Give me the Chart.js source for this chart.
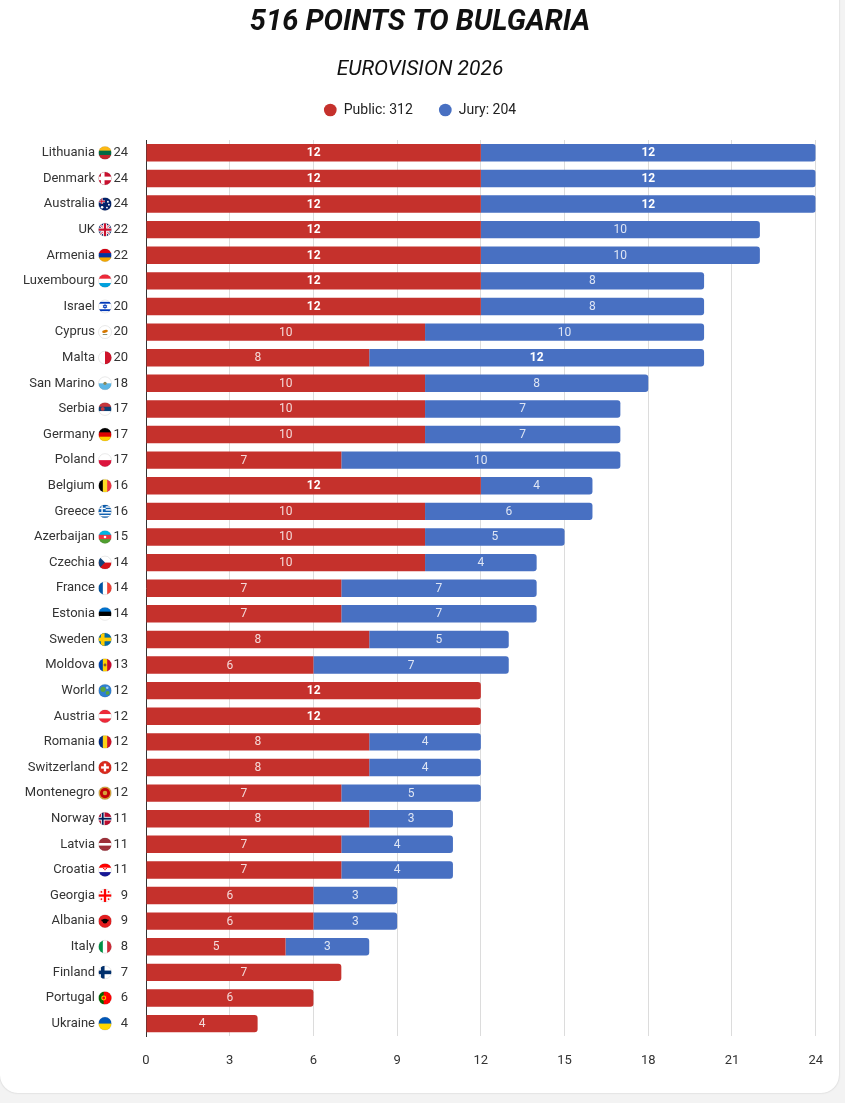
<!DOCTYPE html>
<html>
<head>
<meta charset="utf-8">
<title>516 points to Bulgaria</title>
<script src="https://cdn.jsdelivr.net/npm/chart.js@4.4.1/dist/chart.umd.min.js"></script>
<style>
  html, body { margin: 0; padding: 0; background: #f3f3f3; }
  .card {
    position: absolute; left: 0; top: -20px;
    width: 839px; height: 1113px;
    background: #fff; border-radius: 18px;
    box-shadow: 0 0 2px rgba(0, 0, 0, 0.2);
    overflow: hidden;
  }
  #chart { position: absolute; left: 0; top: 20px; }
</style>
</head>
<body>
<div class="card"><canvas id="chart" width="840" height="1093"></canvas></div>
<script>
// points received, top to bottom
const countries = [
  "Lithuania", "Denmark", "Australia", "UK", "Armenia", "Luxembourg", "Israel",
  "Cyprus", "Malta", "San Marino", "Serbia", "Germany", "Poland", "Belgium",
  "Greece", "Azerbaijan", "Czechia", "France", "Estonia", "Sweden", "Moldova",
  "World", "Austria", "Romania", "Switzerland", "Montenegro", "Norway", "Latvia",
  "Croatia", "Georgia", "Albania", "Italy", "Finland", "Portugal", "Ukraine"
];
const publicPoints = [
  12, 12, 12, 12, 12, 12, 12, 10, 8, 10, 10, 10, 7, 12, 10, 10, 10, 7,
  7, 8, 6, 12, 12, 8, 8, 7, 8, 7, 7, 6, 6, 5, 7, 6, 4
];
const juryPoints = [
  12, 12, 12, 10, 10, 8, 8, 10, 12, 8, 7, 7, 10, 4, 6, 5, 4, 7,
  7, 5, 7, 0, 0, 4, 4, 5, 3, 4, 4, 3, 3, 3, 0, 0, 0
];
const xTicks = [0, 3, 6, 9, 12, 15, 18, 21, 24];

const totals = countries.map((c, i) => publicPoints[i] + juryPoints[i]);
const sum = arr => arr.reduce((a, b) => a + b, 0);

const RED = "#c5312c";
const BLUE = "#4870c2";

Chart.defaults.font.family = "Roboto, 'Noto Sans', sans-serif";
Chart.defaults.color = "#333";

// little round flags next to the country names
const FLAGS = {
  Lithuania: { h: ["#fdb913", "#006a44", "#c1272d"] },
  Denmark: { nordic: ["#c8102e", "#ffffff"] },
  Australia: { h: ["#012169"], extra: f => {
    f.rect("#fff", f.x0, f.cy - f.r * 0.55, f.r, f.r * 0.3);
    f.rect("#fff", f.cx - f.r * 0.65, f.y0, f.r * 0.3, f.r);
    f.rect("#c8102e", f.x0, f.cy - f.r * 0.5, f.r, f.r * 0.16);
    f.rect("#c8102e", f.cx - f.r * 0.58, f.y0, f.r * 0.16, f.r);
    f.dot("#fff", f.cx + f.r * 0.45, f.cy - f.r * 0.35, f.r * 0.14);
    f.dot("#fff", f.cx + f.r * 0.6, f.cy + f.r * 0.1, f.r * 0.14);
    f.dot("#fff", f.cx + f.r * 0.3, f.cy + f.r * 0.55, f.r * 0.14);
    f.dot("#fff", f.cx - f.r * 0.45, f.cy + f.r * 0.5, f.r * 0.2);
  } },
  UK: { h: ["#012169"], extra: f => {
    const { ctx, x0, y0, d } = f;
    ctx.lineWidth = f.r * 0.4; ctx.strokeStyle = "#fff";
    ctx.beginPath(); ctx.moveTo(x0, y0); ctx.lineTo(x0 + d, y0 + d);
    ctx.moveTo(x0 + d, y0); ctx.lineTo(x0, y0 + d); ctx.stroke();
    ctx.lineWidth = f.r * 0.14; ctx.strokeStyle = "#c8102e";
    ctx.stroke();
    f.rect("#fff", f.cx - f.r * 0.3, y0, f.r * 0.6, d);
    f.rect("#fff", x0, f.cy - f.r * 0.3, d, f.r * 0.6);
    f.rect("#c8102e", f.cx - f.r * 0.17, y0, f.r * 0.34, d);
    f.rect("#c8102e", x0, f.cy - f.r * 0.17, d, f.r * 0.34);
  } },
  Armenia: { h: ["#d90012", "#0033a0", "#f2a800"] },
  Luxembourg: { h: ["#ed2939", "#ffffff", "#00a1de"] },
  Israel: { h: ["#fff", "#0038b8", "#fff", "#fff", "#fff", "#0038b8", "#fff"], extra: f => {
    const { ctx, cx, cy, r } = f;
    ctx.strokeStyle = "#0038b8"; ctx.lineWidth = 0.8;
    [0, Math.PI].forEach(rot => {
      ctx.beginPath();
      for (let k = 0; k < 3; k++) {
        const a = rot - Math.PI / 2 + k * 2 * Math.PI / 3;
        const px = cx + Math.cos(a) * r * 0.32, py = cy + Math.sin(a) * r * 0.32;
        k ? ctx.lineTo(px, py) : ctx.moveTo(px, py);
      }
      ctx.closePath(); ctx.stroke();
    });
  } },
  Cyprus: { h: ["#fff"], extra: f => {
    f.ctx.fillStyle = "#d57800";
    f.ctx.beginPath(); f.ctx.ellipse(f.cx, f.cy - f.r * 0.1, f.r * 0.45, f.r * 0.22, -0.2, 0, Math.PI * 2); f.ctx.fill();
    f.rect("#4e5b31", f.cx - f.r * 0.35, f.cy + f.r * 0.3, f.r * 0.7, f.r * 0.1);
  } },
  Malta: { v: ["#ffffff", "#cf142b"] },
  "San Marino": { h: ["#ffffff", "#5eb6e4"], extra: f => f.dot("#8a8a5a", f.cx, f.cy, f.r * 0.25) },
  Serbia: { h: ["#c6363c", "#0c4076", "#ffffff"], extra: f => f.dot("#c6363c", f.cx - f.r * 0.35, f.cy, f.r * 0.3) },
  Germany: { h: ["#000000", "#dd0000", "#ffce00"] },
  Poland: { h: ["#ffffff", "#dc143c"] },
  Belgium: { v: ["#000000", "#fdda24", "#ef3340"] },
  Greece: { h: ["#0d5eaf", "#fff", "#0d5eaf", "#fff", "#0d5eaf", "#fff", "#0d5eaf", "#fff", "#0d5eaf"], extra: f => {
    f.rect("#0d5eaf", f.x0, f.y0, f.r * 1.1, f.r * 1.1);
    f.rect("#fff", f.x0 + f.r * 0.44, f.y0, f.r * 0.22, f.r * 1.1);
    f.rect("#fff", f.x0, f.y0 + f.r * 0.44, f.r * 1.1, f.r * 0.22);
  } },
  Azerbaijan: { h: ["#00b5e2", "#ef3340", "#509e2f"], extra: f => f.dot("#fff", f.cx, f.cy, f.r * 0.2) },
  Czechia: { h: ["#ffffff", "#d7141a"], extra: f => {
    const { ctx, x0, y0, cx, cy, d } = f;
    ctx.fillStyle = "#11457e";
    ctx.beginPath(); ctx.moveTo(x0, y0); ctx.lineTo(cx, cy); ctx.lineTo(x0, y0 + d); ctx.closePath(); ctx.fill();
  } },
  France: { v: ["#0055a4", "#ffffff", "#ef4135"] },
  Estonia: { h: ["#0072ce", "#000000", "#ffffff"] },
  Sweden: { nordic: ["#006aa7", "#fecc02"] },
  Moldova: { v: ["#0046ae", "#ffd200", "#cc092f"], extra: f => f.dot("#8b5a2b", f.cx, f.cy, f.r * 0.22) },
  World: { h: ["#2f7fd1"], extra: f => {
    f.dot("#5aa53c", f.cx - f.r * 0.3, f.cy - f.r * 0.2, f.r * 0.4);
    f.dot("#5aa53c", f.cx + f.r * 0.4, f.cy + f.r * 0.35, f.r * 0.3);
    f.dot("#9fd0f5", f.cx + f.r * 0.35, f.cy - f.r * 0.45, f.r * 0.2);
  } },
  Austria: { h: ["#ed2939", "#ffffff", "#ed2939"] },
  Romania: { v: ["#002b7f", "#fcd116", "#ce1126"] },
  Switzerland: { h: ["#da291c"], extra: f => {
    f.rect("#fff", f.cx - f.r * 0.18, f.cy - f.r * 0.6, f.r * 0.36, f.r * 1.2);
    f.rect("#fff", f.cx - f.r * 0.6, f.cy - f.r * 0.18, f.r * 1.2, f.r * 0.36);
  } },
  Montenegro: { h: ["#d4a23a"], extra: f => {
    f.dot("#c40308", f.cx, f.cy, f.r * 0.78);
    f.dot("#d4a23a", f.cx, f.cy, f.r * 0.35);
  } },
  Norway: { nordic: ["#ba0c2f", "#ffffff", "#00205b"] },
  Latvia: { h: ["#9e3039", "#9e3039", "#ffffff", "#9e3039", "#9e3039"] },
  Croatia: { h: ["#ff0000", "#ffffff", "#171796"], extra: f => {
    f.rect("#fff", f.cx - f.r * 0.3, f.cy - f.r * 0.35, f.r * 0.6, f.r * 0.65);
    f.rect("#ff0000", f.cx - f.r * 0.3, f.cy - f.r * 0.35, f.r * 0.2, f.r * 0.2);
    f.rect("#ff0000", f.cx + f.r * 0.1, f.cy - f.r * 0.35, f.r * 0.2, f.r * 0.2);
    f.rect("#ff0000", f.cx - f.r * 0.1, f.cy - f.r * 0.15, f.r * 0.2, f.r * 0.2);
  } },
  Georgia: { h: ["#ffffff"], extra: f => {
    f.rect("#ff0000", f.cx - f.r * 0.18, f.y0, f.r * 0.36, f.d);
    f.rect("#ff0000", f.x0, f.cy - f.r * 0.18, f.d, f.r * 0.36);
    [[-1, -1], [1, -1], [-1, 1], [1, 1]].forEach(([sx, sy]) => {
      f.dot("#ff0000", f.cx + sx * f.r * 0.55, f.cy + sy * f.r * 0.55, f.r * 0.14);
    });
  } },
  Albania: { h: ["#e41e20"], extra: f => {
    f.dot("#000", f.cx, f.cy, f.r * 0.38);
    f.rect("#000", f.cx - f.r * 0.55, f.cy - f.r * 0.25, f.r * 1.1, f.r * 0.25);
  } },
  Italy: { v: ["#009246", "#ffffff", "#ce2b37"] },
  Finland: { nordic: ["#ffffff", "#002f6c"] },
  Portugal: { v: ["#006600", "#006600", "#ff0000", "#ff0000", "#ff0000"], extra: f => {
    f.dot("#ffcc00", f.x0 + f.d * 0.4, f.cy, f.r * 0.38);
    f.dot("#ff0000", f.x0 + f.d * 0.4, f.cy, f.r * 0.22);
  } },
  Ukraine: { h: ["#0057b7", "#ffd700"] }
};

function drawFlag(ctx, name, cx, cy, r) {
  const spec = FLAGS[name] || { h: ["#ccc"] };
  const x0 = cx - r, y0 = cy - r, d = r * 2;
  const rect = (c, x, y, w, h) => { ctx.fillStyle = c; ctx.fillRect(x, y, w, h); };
  const dot = (c, x, y, rr) => {
    ctx.fillStyle = c; ctx.beginPath(); ctx.arc(x, y, rr, 0, Math.PI * 2); ctx.fill();
  };
  const stripes = (cols, vertical) => {
    const n = cols.length;
    cols.forEach((c, i) => {
      if (vertical) rect(c, x0 + d * i / n, y0, d / n + 0.6, d);
      else rect(c, x0, y0 + d * i / n, d, d / n + 0.6);
    });
  };

  ctx.save();
  ctx.beginPath();
  ctx.arc(cx, cy, r, 0, Math.PI * 2);
  ctx.clip();
  if (spec.h) stripes(spec.h, false);
  if (spec.v) stripes(spec.v, true);
  if (spec.nordic) {
    const [bg, c1, c2] = spec.nordic;
    rect(bg, x0, y0, d, d);
    const vx = cx - r * 0.35;
    rect(c1, vx - r * 0.28, y0, r * 0.56, d);
    rect(c1, x0, cy - r * 0.28, d, r * 0.56);
    if (c2) {
      rect(c2, vx - r * 0.14, y0, r * 0.28, d);
      rect(c2, x0, cy - r * 0.14, d, r * 0.28);
    }
  }
  if (spec.extra) spec.extra({ ctx, cx, cy, r, x0, y0, d, rect, dot });
  ctx.restore();

  ctx.beginPath();
  ctx.arc(cx, cy, r, 0, Math.PI * 2);
  ctx.strokeStyle = "rgba(0,0,0,0.15)";
  ctx.lineWidth = 0.6;
  ctx.stroke();
}

// flag + total after each country name
const rowExtras = {
  id: "rowExtras",
  afterDraw(chart) {
    const ctx = chart.ctx;
    const yScale = chart.scales.y;
    ctx.save();
    countries.forEach((c, i) => {
      const y = yScale.getPixelForTick(i);
      drawFlag(ctx, c, yScale.right - 41, y, 6.5);
      ctx.font = "13px Roboto";
      ctx.fillStyle = "#333";
      ctx.textAlign = "right";
      ctx.textBaseline = "middle";
      ctx.fillText(totals[i], yScale.right - 18, y);
    });
    ctx.restore();
  }
};

// value written in the middle of each segment
const barLabels = {
  id: "barLabels",
  afterDatasetsDraw(chart) {
    const ctx = chart.ctx;
    ctx.save();
    ctx.textAlign = "center";
    ctx.textBaseline = "middle";
    chart.data.datasets.forEach((ds, di) => {
      chart.getDatasetMeta(di).data.forEach((bar, i) => {
        const v = ds.data[i];
        if (!v) return;
        const { x, y } = bar.getCenterPoint();
        const best = v === 12;
        ctx.font = (best ? "bold " : "") + "12px Roboto";
        ctx.fillStyle = best ? "#ffffff" : "rgba(255,255,255,0.82)";
        ctx.fillText(String(v), x, y + 0.5);
      });
    });
    ctx.restore();
  }
};

// a bit more air between the legend and the bars
const legendGap = {
  id: "legendGap",
  afterInit(chart) {
    const legend = chart.legend;
    const fit = legend.fit;
    legend.fit = function () {
      fit.call(this);
      this.height += 13;
    };
  }
};

new Chart(document.getElementById("chart").getContext("2d"), {
  type: "bar",
  data: {
    labels: countries,
    datasets: [
      {
        label: `Public: ${sum(publicPoints)}`,
        data: publicPoints,
        backgroundColor: RED,
        borderWidth: 0,
        borderRadius: ctx => juryPoints[ctx.dataIndex] ? 0 : { topRight: 3, bottomRight: 3 },
        barPercentage: 0.68,
        categoryPercentage: 1
      },
      {
        label: `Jury: ${sum(juryPoints)}`,
        data: juryPoints,
        backgroundColor: BLUE,
        borderWidth: 0,
        borderRadius: { topRight: 3, bottomRight: 3, topLeft: 0, bottomLeft: 0 },
        barPercentage: 0.68,
        categoryPercentage: 1
      }
    ]
  },
  options: {
    indexAxis: "y",
    responsive: false,
    animation: false,
    layout: { padding: { left: 0, right: 0, top: 0, bottom: 7 } },
    plugins: {
      title: {
        display: true,
        text: "516 POINTS TO BULGARIA",
        color: "#111",
        font: { size: 29, weight: "bold", style: "italic" },
        padding: { top: 5, bottom: 10 }
      },
      subtitle: {
        display: true,
        text: "EUROVISION 2026",
        color: "#111",
        font: { size: 21, style: "italic" },
        padding: { top: 7, bottom: -5 }
      },
      legend: {
        position: "top",
        labels: {
          usePointStyle: true,
          pointStyle: "circle",
          boxWidth: 13,
          boxHeight: 9,
          padding: 26,
          color: "#222",
          font: { size: 14 }
        }
      },
      tooltip: { enabled: false }
    },
    scales: {
      x: {
        stacked: true,
        min: 0,
        max: 24,
        afterBuildTicks: scale => { scale.ticks = xTicks.map(v => ({ value: v })); },
        grid: { color: "#dcdcdc", drawTicks: false },
        border: { display: false },
        ticks: { padding: 17, color: "#333", font: { size: 13 } }
      },
      y: {
        stacked: true,
        afterFit: scale => {
          scale.width = 146;
          scale.paddingTop = 0;
          scale.paddingBottom = 0;
        },
        grid: { display: false, drawTicks: false },
        border: { display: true, color: "#333", width: 1 },
        ticks: { padding: 51, color: "#333", autoSkip: false, font: { size: 13 } }
      },
      // empty strip on the right so the plot stops short of the card edge
      side: {
        type: "linear",
        position: "right",
        display: true,
        afterFit: scale => { scale.width = 22; },
        grid: { display: false },
        border: { display: false },
        ticks: { display: false }
      }
    }
  },
  plugins: [barLabels, rowExtras, legendGap]
});
</script>
</body>
</html>
